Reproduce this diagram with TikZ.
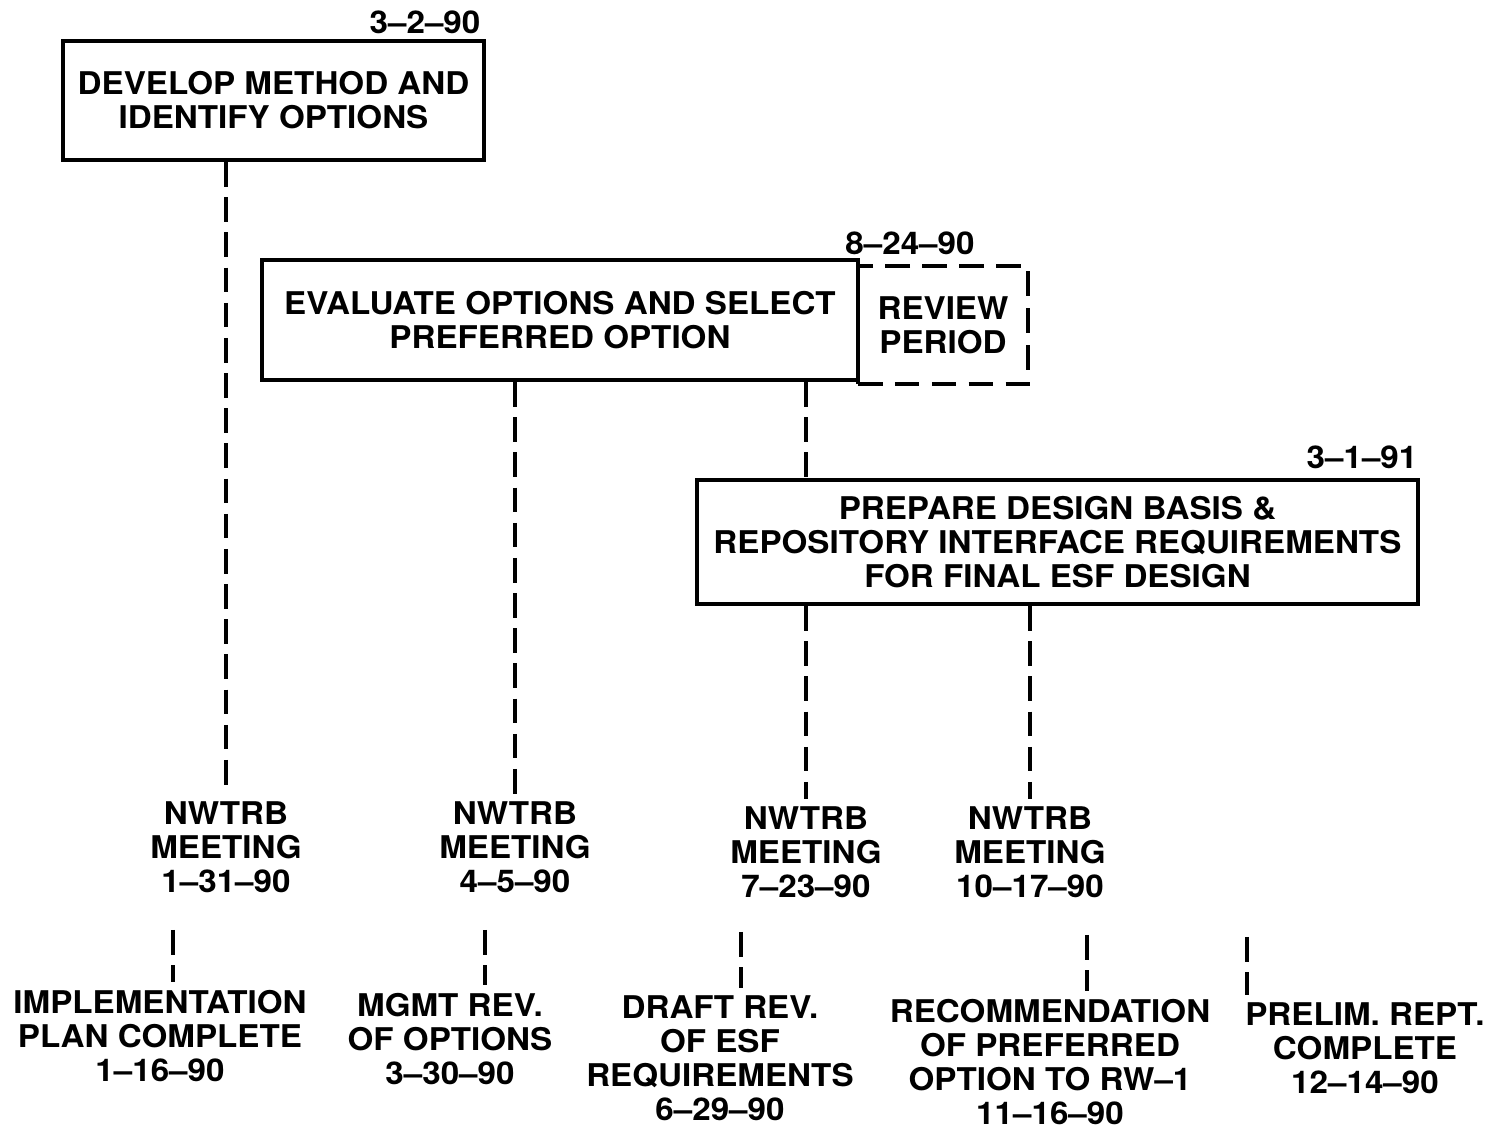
\documentclass[tikz,border=0pt]{standalone}
\usepackage{fontspec}
\setmainfont[FakeStretch=1.06]{TeX Gyre Heros}
\begin{document}
\begin{tikzpicture}[x=0.01cm,y=-0.01cm,
  box/.style={draw,line width=1.2pt,align=center,inner sep=0pt},
  reviewbox/.style={draw,line width=1.2pt,align=center,inner sep=0pt,dash pattern=on 7pt off 3.5pt},
  lbl/.style={align=center,inner sep=2pt},
  conn/.style={line width=1.2pt,dash pattern=on 7pt off 3pt},
  font=\fontsize{8.9}{9.7}\selectfont\bfseries]
\useasboundingbox (0,0) rectangle (1499,1128);
\node[box,minimum width=4.21cm,minimum height=1.19cm] (develop) at (273.5,100.5) {DEVELOP METHOD AND\\IDENTIFY OPTIONS};
\node[lbl] (date1) at (425,22) {3--2--90};
\node[box,minimum width=5.96cm,minimum height=1.2cm] (evaluate) at (560,320) {EVALUATE OPTIONS AND SELECT\\PREFERRED OPTION};
\node[reviewbox,minimum width=1.7cm,minimum height=1.18cm] (review) at (943,325) {REVIEW\\PERIOD};
\node[lbl] (date2) at (910,243) {8--24--90};
\node[box,minimum width=7.21cm,minimum height=1.24cm] (prepare) at (1057.5,542) {PREPARE DESIGN BASIS \&\\REPOSITORY INTERFACE REQUIREMENTS\\FOR FINAL ESF DESIGN};
\node[lbl] (date3) at (1362,457) {3--1--91};
\node[lbl] (meet1) at (226,847) {NWTRB\\MEETING\\1--31--90};
\node[lbl] (meet2) at (515,847) {NWTRB\\MEETING\\4--5--90};
\node[lbl] (meet3) at (806,852) {NWTRB\\MEETING\\7--23--90};
\node[lbl] (meet4) at (1030,852) {NWTRB\\MEETING\\10--17--90};
\node[lbl] (implement) at (160,1036) {IMPLEMENTATION\\PLAN COMPLETE\\1--16--90};
\node[lbl] (mgmt) at (450,1039) {MGMT REV.\\OF OPTIONS\\3--30--90};
\node[lbl] (draft) at (720,1058) {DRAFT REV.\\OF ESF\\REQUIREMENTS\\6--29--90};
\node[lbl] (recommend) at (1050,1062) {RECOMMENDATION\\OF PREFERRED\\OPTION TO RW--1\\11--16--90};
\node[lbl] (prelim) at (1365,1048) {PRELIM. REPT.\\COMPLETE\\12--14--90};
\coordinate (tick1) at (173,930);
\coordinate (tick2) at (485,930);
\coordinate (tick3) at (741,932);
\coordinate (tick4) at (1087,935);
\coordinate (tick5) at (1247,937);
\draw[conn] (meet1.north |- develop.south) -- (meet1.north);
\draw[conn] (meet2.north |- evaluate.south) -- (meet2.north);
\draw[conn] (meet3.north |- evaluate.south) -- (meet3.north |- prepare.north);
\draw[conn] (meet3.north |- prepare.south) -- (meet3.north);
\draw[conn] (meet4.north |- prepare.south) -- (meet4.north);
\draw[conn] (tick1) -- (tick1 |- implement.north);
\draw[conn] (tick2) -- (tick2 |- mgmt.north);
\draw[conn] (tick3) -- (tick3 |- draft.north);
\draw[conn] (tick4) -- (tick4 |- recommend.north);
\draw[conn] (tick5) -- (tick5 |- prelim.north);
\end{tikzpicture}
\end{document}
